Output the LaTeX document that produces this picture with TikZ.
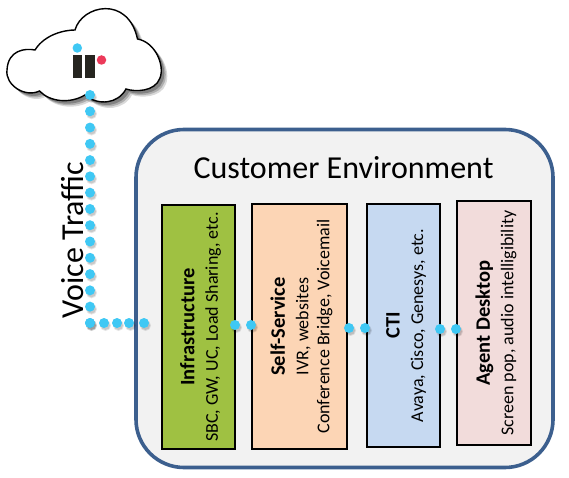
\documentclass[tikz,border=0pt]{standalone}
\usepackage{fontspec}
\setmainfont{Carlito}
\definecolor{dotblue}{HTML}{3FC8F4}
\definecolor{frameblue}{HTML}{3C5F8E}
\definecolor{envgray}{HTML}{F2F2F2}
\definecolor{infragreen}{HTML}{9FC142}
\definecolor{selforange}{HTML}{FCD5B5}
\definecolor{ctiblue}{HTML}{C6D9F1}
\definecolor{agentpink}{HTML}{F2DCDB}
\definecolor{logored}{HTML}{EC3A5A}
\definecolor{logoblack}{HTML}{262520}
\newcommand{\boxhead}[1]{{\fontsize{20.5}{23}\selectfont\bfseries\rule{0pt}{18.5pt}#1}}
\tikzset{
  boxnode/.style={draw=black,line width=1.6pt,rotate=90,align=center,inner sep=0pt,font=\fontsize{18}{23.5}\selectfont},
  dotlink/.style={draw=dotblue,line width=10pt,line cap=round,dash pattern=#1,
    preaction={draw=black,opacity=0.10,line width=11pt,line cap=round,dash pattern=#1,transform canvas={xshift=1.5pt,yshift=-2.5pt}},
    preaction={draw=black,opacity=0.12,line width=9pt,line cap=round,dash pattern=#1,transform canvas={xshift=1.5pt,yshift=-2.5pt}}},
  logodot/.style={circle,inner sep=0pt,minimum size=9.5pt},
}
\newcommand{\cloudpath}{(35,50) .. controls (45,34) and (65,30) .. (75,30) .. controls (82,5) and (128,-5) .. (137.5,39) .. controls (155,42) and (165,65) .. (160,78) .. controls (155,92) and (135,92) .. (126,89) .. controls (118,104) and (98,106) .. (85,95) .. controls (70,104) and (50,102) .. (39.5,91) .. controls (25,98) and (5,85) .. (7,70) .. controls (8,50) and (25,48) .. (35,50) -- cycle}
\begin{document}
\begin{tikzpicture}[x=1pt,y=-1pt]
\useasboundingbox (0,0) rectangle (569,478);
% cloud
\foreach \s/\o in {6/0.15,4.5/0.2,3/0.25}{
  \fill[black,opacity=\o,transform canvas={xshift=\s pt,yshift=-\s pt}] \cloudpath;
}
\draw[black,fill=white,line width=1.4pt] \cloudpath;
\node[logodot,fill=logored] (logor) at (101.5,60) {};
\node[fill=logoblack,minimum width=9.5pt,minimum height=23pt,inner sep=0pt] (logoa) at (77.7,66.7) {};
\node[fill=logoblack,minimum width=9.5pt,minimum height=23pt,inner sep=0pt] (logob) at (90,66.7) {};
% environment
\node[draw=frameblue,fill=envgray,line width=3.6pt,rounded corners=48pt,minimum width=417pt,minimum height=338pt,inner sep=0pt] (env) at (344.5,298.5) {};
\node[font=\fontsize{32}{34}\selectfont] (envlabel) at (343.5,168) {Customer Environment};
% boxes
\node[boxnode,fill=infragreen,minimum width=244pt,minimum height=73pt] (infra) at (198.5,327) {\boxhead{Infrastructure}\\SBC, GW, UC, Load Sharing, etc.};
\node[boxnode,fill=selforange,minimum width=245pt,minimum height=95pt] (selfs) at (299.5,326.5) {\boxhead{Self-Service}\\IVR, websites\\[-2.5pt]Conference Bridge, Voicemail};
\node[boxnode,fill=ctiblue,minimum width=243pt,minimum height=73pt] (cti) at (403.5,325.5) {\boxhead{CTI}\\Avaya,\ Cisco,\ Genesys, etc.};
\node[boxnode,fill=agentpink,minimum width=244pt,minimum height=74pt] (agent) at (494,323) {\boxhead{Agent Desktop}\\Screen pop, audio intelligibility};
\node[font=\fontsize{32}{34}\selectfont,rotate=90] (voice) at (73,240) {Voice Traffic};
% dotted connectors
\coordinate (cloudout) at (90,95);
\coordinate (corner) at (90,323);
\coordinate (infrain) at (144.05,323);
\draw[dotlink={on 0pt off 16.28pt}] (cloudout) -- (corner);
\draw[dotlink={on 0pt off 14pt on 0pt off 13pt on 0pt off 12pt on 0pt off 15pt}] (corner) -- (infrain);
\draw[dotlink={on 0pt off 16pt}] (235,325) -- (251.05,325);
\draw[dotlink={on 0pt off 16pt}] (349,328) -- (365.05,328);
\draw[dotlink={on 0pt off 16pt}] (440,329) -- (456.05,329);
\node[logodot,fill=dotblue] (logodot) at (77.3,48) {};
\end{tikzpicture}
\end{document}
